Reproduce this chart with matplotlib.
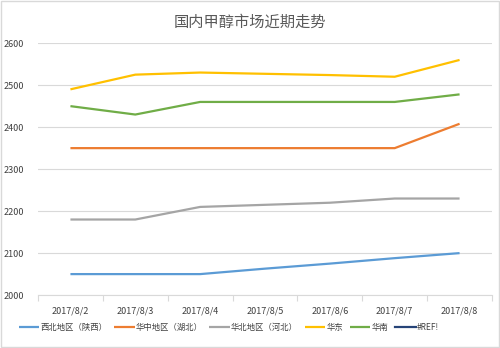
import numpy as np
import matplotlib
matplotlib.use("Agg")
import matplotlib.pyplot as plt

plt.rcParams['font.family'] = ['Noto Sans CJK SC', 'DejaVu Sans']

#--------------------- Data ---------------------
dates = ["2017/8/2", "2017/8/3", "2017/8/4", "2017/8/5", "2017/8/6", "2017/8/7", "2017/8/8"]
xibei = [2050, 2050, 2050, 2063, 2075, 2088, 2100]
huazhong = [2350, 2350, 2350, 2350, 2350, 2350, 2408]
huabei = [2180, 2180, 2210, 2215, 2220, 2230, 2230]
huadong = [2490, 2525, 2530, 2527, 2524, 2520, 2560]
huanan = [2450, 2430, 2460, 2460, 2460, 2460, 2478]

names = ["西北地区（陕西）", "华中地区（湖北）", "华北地区（河北）", "华东", "华南", "#REF!"]
colors = ["#5B9BD5", "#ED7D31", "#A5A5A5", "#FFC000", "#70AD47", "#264478"]

yticks = [2000, 2100, 2200, 2300, 2400, 2500, 2600]

#--------------------- Plot ---------------------
fig = plt.figure(figsize=(5, 3.48), dpi=100)
ax = fig.add_axes([0.076, 0.152, 0.908, 0.724])

x = np.arange(len(dates))
series = [xibei, huazhong, huabei, huadong, huanan]
for vals, name, c in zip(series, names, colors):
	ax.plot(x, vals, color=c, lw=1.6, label=name, solid_capstyle='butt')
ax.plot([], [], color=colors[5], lw=1.6, label=names[5])

ax.set_xlim(-0.5, len(dates) - 0.5)
ax.set_ylim(2000, 2600)
ax.set_yticks(yticks)
ax.set_yticklabels([str(v) for v in yticks], fontsize=6.5, color="#404040")
ax.set_xticks(x)
ax.set_xticklabels(dates, fontsize=6.5, color="#404040")
ax.tick_params(axis='x', length=0, pad=8)
ax.tick_params(axis='y', length=0, pad=10)
# category boundary ticks
ax.set_xticks(np.arange(-0.5, len(dates)), minor=True)
ax.tick_params(axis='x', which='minor', length=4, color="#D9D9D9", width=0.8)

ax.grid(axis='y', color="#D9D9D9", lw=0.8)
ax.set_axisbelow(True)
for s in ['top', 'right', 'left']:
	ax.spines[s].set_visible(False)
ax.spines['bottom'].set_color("#D9D9D9")
ax.spines['bottom'].set_linewidth(0.8)

fig.text(0.5, 0.935, "国内甲醇市场近期走势", ha='center', va='center', fontsize=11, color="#595959")

fig.legend(loc='center', bbox_to_anchor=(0.457, 0.06), ncol=6, frameon=False,
	fontsize=6.0, handlelength=2.5, handletextpad=0.1, columnspacing=0.8,
	labelcolor="#404040")

# outer border
fig.patches.append(plt.Rectangle((0.002, 0.003), 0.996, 0.994, transform=fig.transFigure,
	fill=False, edgecolor="#D9D9D9", lw=1))

fig.savefig("out.png", dpi=100)
